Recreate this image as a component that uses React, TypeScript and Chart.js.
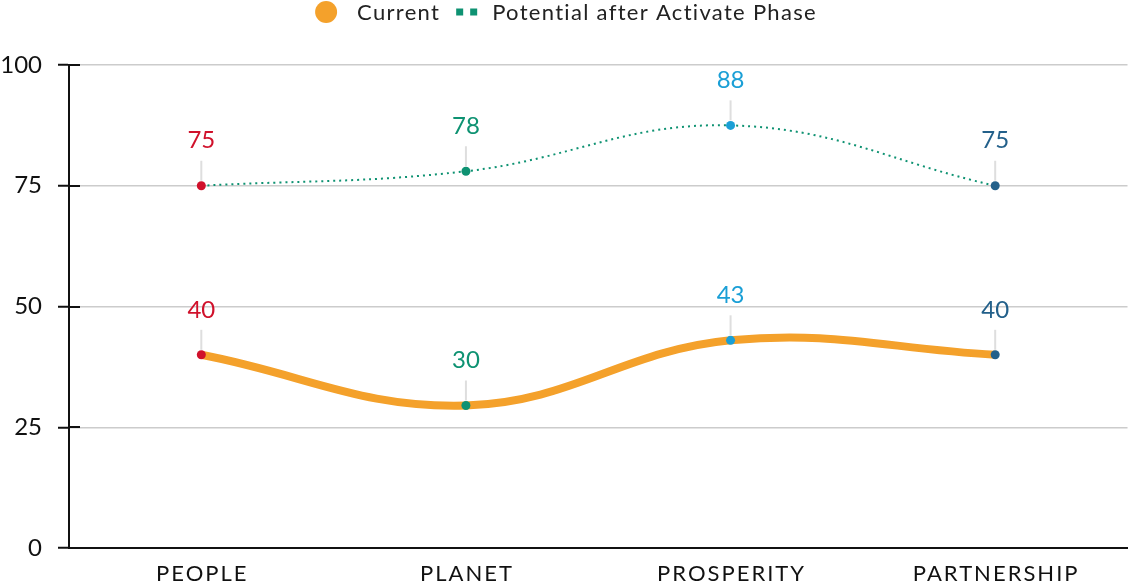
import React, { useEffect, useRef } from 'react';
import { Chart, registerables } from 'chart.js';

Chart.register(...registerables);

const categories = ['PEOPLE', 'PLANET', 'PROSPERITY', 'PARTNERSHIP'];
const currentValues = [40, 29.5, 43, 40];
const potentialValues = [75, 78, 87.5, 75];
const categoryColors = ['#d0112b', '#0e9272', '#1a9fd6', '#23608a'];
const yTickValues = [0, 25, 50, 75, 100];
const seriesNames = ['Current', 'Potential after Activate Phase'];

const FONT = 'Lato, "Open Sans", sans-serif';
const ORANGE = '#f4a12b';
const TEAL = '#0e9272';
const AXIS = '#111111';

const legendPlugin = {
  id: 'customLegend',
  afterDraw(chart: any) {
    const ctx = chart.ctx;
    ctx.save();
    ctx.font = `22px ${FONT}`;
    (ctx as any).letterSpacing = '1.3px';
    ctx.textBaseline = 'middle';
    ctx.textAlign = 'left';
    const w1 = ctx.measureText(seriesNames[0]).width;
    const w2 = ctx.measureText(seriesNames[1]).width;
    const total = 22 + 20 + w1 + 16 + 21 + 15 + w2;
    let x = chart.width / 2 - total / 2;
    const y = 12;
    ctx.fillStyle = ORANGE;
    ctx.beginPath();
    ctx.arc(x + 11, y, 11, 0, Math.PI * 2);
    ctx.fill();
    x += 22 + 20;
    ctx.fillStyle = '#222222';
    ctx.fillText(seriesNames[0], x, y + 1);
    x += w1 + 16;
    ctx.fillStyle = TEAL;
    ctx.fillRect(x, y - 3.5, 7, 7);
    ctx.fillRect(x + 14, y - 3.5, 7, 7);
    x += 21 + 15;
    ctx.fillStyle = '#222222';
    ctx.fillText(seriesNames[1], x, y + 1);
    ctx.restore();
  },
};

const X_SPACING = 2;

const xLabelPlugin = {
  id: 'xLabels',
  afterDraw(chart: any) {
    const ctx = chart.ctx;
    const xs = chart.scales.x;
    ctx.save();
    ctx.font = `22px ${FONT}`;
    (ctx as any).letterSpacing = `${X_SPACING}px`;
    ctx.fillStyle = AXIS;
    ctx.textAlign = 'left';
    ctx.textBaseline = 'middle';
    categories.forEach((c, i) => {
      const px = xs.getPixelForValue(i);
      const w = ctx.measureText(c).width - X_SPACING;
      ctx.fillText(c, px - w / 2, xs.top + 26);
    });
    ctx.restore();
  },
};

const innerTickPlugin = {
  id: 'innerTicks',
  afterDraw(chart: any) {
    const ctx = chart.ctx;
    const ys = chart.scales.y;
    const left = chart.chartArea.left;
    ctx.save();
    ctx.strokeStyle = AXIS;
    ctx.lineWidth = 2;
    ys.ticks.forEach((t: any) => {
      const py = Math.round(ys.getPixelForValue(t.value));
      ctx.beginPath();
      ctx.moveTo(left - 1, py);
      ctx.lineTo(left + 11, py);
      ctx.stroke();
    });
    ctx.restore();
  },
};

const pointLabelPlugin = {
  id: 'pointLabels',
  afterDatasetsDraw(chart: any) {
    const ctx = chart.ctx;
    ctx.save();
    chart.data.datasets.forEach((ds: any, di: number) => {
      const meta = chart.getDatasetMeta(di);
      meta.data.forEach((pt: any, i: number) => {
        const x = pt.x;
        const y = pt.y;
        ctx.strokeStyle = '#dedede';
        ctx.lineWidth = 2;
        ctx.beginPath();
        ctx.moveTo(x, y - 5);
        ctx.lineTo(x, y - 25);
        ctx.stroke();
        ctx.fillStyle = categoryColors[i];
        ctx.font = `24px ${FONT}`;
        ctx.textAlign = 'center';
        ctx.textBaseline = 'middle';
        ctx.fillText(String(Math.round(ds.data[i])), x, y - 45);
      });
    });
    ctx.restore();
  },
};

export default function App() {
  const ref = useRef<HTMLCanvasElement>(null);
  useEffect(() => {
    document.body.style.margin = '0';
    if (!ref.current) return;
    const chart = new Chart(ref.current, {
      type: 'line',
      data: {
        labels: categories,
        datasets: [
          {
            label: seriesNames[0],
            data: currentValues,
            borderColor: ORANGE,
            borderWidth: 8,
            tension: 0.4,
            fill: false,
            pointRadius: 4.5,
            pointBorderWidth: 0,
            pointBackgroundColor: categoryColors,
            order: 1,
          },
          {
            label: seriesNames[1],
            data: potentialValues,
            borderColor: TEAL,
            borderWidth: 2,
            borderDash: [2, 4],
            tension: 0.4,
            fill: false,
            pointRadius: 4.5,
            pointBorderWidth: 0,
            pointBackgroundColor: categoryColors,
            order: 0,
          },
        ],
      },
      options: {
        responsive: false,
        animation: false,
        layout: { padding: { top: 65, right: 2, left: 0, bottom: 0 } },
        plugins: {
          legend: { display: false },
          tooltip: { enabled: false },
        },
        scales: {
          x: {
            offset: true,
            grid: { display: false },
            border: { color: AXIS, width: 2 },
            ticks: { display: false },
            afterFit: (scale: any) => {
              scale.height = 36;
            },
          },
          y: {
            min: 0,
            max: 100,
            afterBuildTicks: (scale: any) => {
              scale.ticks = yTickValues.map((v) => ({ value: v }));
            },
            afterFit: (scale: any) => {
              scale.width = 69;
            },
            grid: {
              color: (c: any) => (c.tick && c.tick.value === 0 ? 'rgba(0,0,0,0)' : '#cccccc'),
              lineWidth: 1.5,
              tickColor: AXIS,
              tickLength: 11,
              tickWidth: 2,
            },
            border: { color: AXIS, width: 2 },
            ticks: {
              color: AXIS,
              padding: 16,
              font: { family: FONT, size: 24 },
            },
          },
        },
      },
      plugins: [innerTickPlugin, pointLabelPlugin, legendPlugin, xLabelPlugin],
    });
    return () => chart.destroy();
  }, []);
  return (
    <div style={{ width: 1132, height: 584 }}>
      <canvas ref={ref} width={1132} height={584} />
    </div>
  );
}
